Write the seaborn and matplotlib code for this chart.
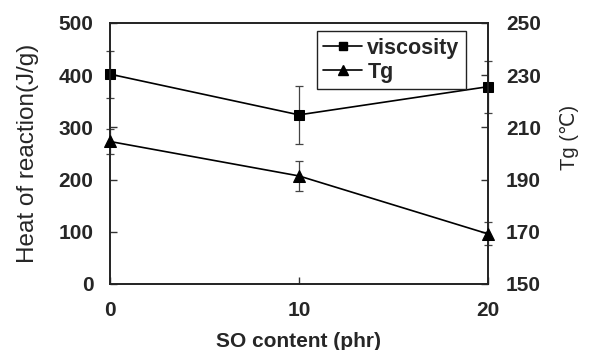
import numpy as np
import pandas as pd
import seaborn as sns
import matplotlib.pyplot as plt
from matplotlib.lines import Line2D

# ---- data ----
so_content = [0, 10, 20]
viscosity = [402, 324, 378]
viscosity_err = [45, 55, 50]
tg = [204.6, 191.4, 169.2]
tg_err = [4.8, 5.8, 4.4]
left_ticks = [0, 100, 200, 300, 400, 500]
right_ticks = [150, 170, 190, 210, 230, 250]
x_ticks = [0, 10, 20]

sns.set_style("ticks")
plt.rcParams['font.family'] = ['Liberation Sans', 'DejaVu Sans']

fig = plt.figure(figsize=(5.9, 3.5), dpi=100)
ax = fig.add_axes([0.1864, 0.1886, 0.6407, 0.7457])
ax2 = ax.twinx()

df_v = pd.DataFrame({"x": so_content, "y": viscosity})
df_t = pd.DataFrame({"x": so_content, "y": tg})

sns.lineplot(data=df_v, x="x", y="y", ax=ax, color="black", marker="s",
             markersize=7.5, markeredgecolor="black", linewidth=1.2,
             clip_on=False, zorder=3)
ax.errorbar(so_content, viscosity, yerr=viscosity_err, fmt="none",
            ecolor="#444444", elinewidth=0.9, capsize=3.2, capthick=0.9,
            clip_on=False, zorder=2)

sns.lineplot(data=df_t, x="x", y="y", ax=ax2, color="black", marker="^",
             markersize=8, markeredgecolor="black", linewidth=1.2,
             clip_on=False, zorder=3)
ax2.errorbar(so_content, tg, yerr=tg_err, fmt="none",
             ecolor="#444444", elinewidth=0.9, capsize=3.2, capthick=0.9,
             clip_on=False, zorder=2)

ax.set_xlim(0, 20)
ax.set_ylim(0, 500)
ax2.set_ylim(150, 250)
ax.set_xticks(x_ticks)
ax.set_yticks(left_ticks)
ax2.set_yticks(right_ticks)

tick_font = dict(fontsize=15, fontweight="bold")
ax.set_xticklabels([str(v) for v in x_ticks], **tick_font)
ax.set_yticklabels([str(v) for v in left_ticks], **tick_font)
ax2.set_yticklabels([str(v) for v in right_ticks], **tick_font)

ax.tick_params(axis="both", direction="in", length=5, width=1, color="#333333", pad=12)
ax.tick_params(axis="x", pad=12)
ax2.tick_params(axis="y", direction="in", length=5, width=1, color="#333333", pad=13)

for a in (ax, ax2):
    for s in a.spines.values():
        s.set_visible(True)
        s.set_linewidth(1.2)
        s.set_color("#222222")

ax.set_xlabel("SO content (phr)", fontsize=15, fontweight="bold", labelpad=9)
ax.set_ylabel("Heat of reaction(J/g)", fontsize=17.5, labelpad=14)
ax2.set_ylabel("Tg (\u2103)", fontsize=14.5, labelpad=14, y=0.56)

handles = [
    Line2D([], [], color="black", marker="s", markersize=6, linewidth=1.2),
    Line2D([], [], color="black", marker="^", markersize=6.5, linewidth=1.2),
]
leg = ax2.legend(handles, ["viscosity", "Tg"], loc="upper right",
                 bbox_to_anchor=(0.942, 0.969), frameon=True, fancybox=False,
                 edgecolor="#222222", framealpha=1,
                 prop=dict(size=15.5, weight="bold"), handlelength=1.8,
                 handletextpad=0.25, borderpad=0.3, labelspacing=0.15,
                 borderaxespad=0)
leg.get_frame().set_linewidth(1.0)

fig.savefig("out.png", dpi=100)
